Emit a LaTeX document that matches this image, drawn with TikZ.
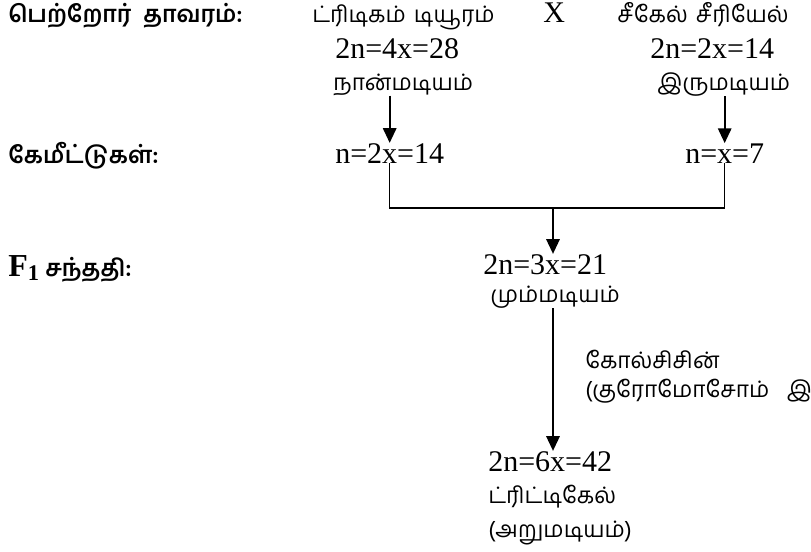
\documentclass[tikz,border=0pt]{standalone}
\usepackage{fontspec}
\usetikzlibrary{arrows.meta,positioning,calc}
\setmainfont{Liberation Serif}
\newfontfamily\tamilfont[Script=Tamil]{Hind Madurai}
\definecolor{ink}{HTML}{000000}
\tikzset{
  rowlabel/.style={anchor=base west, inner sep=0pt, text=ink,
                   font=\tamilfont\bfseries\fontsize{17.5}{20}\selectfont},
  formula/.style={anchor=base west, inner sep=0pt, text=ink,
                  font=\fontsize{22.5}{26}\selectfont},
  tamtext/.style={anchor=base west, inner sep=0pt, text=ink,
                  font=\tamilfont\fontsize{17}{20}\selectfont},
  arrow/.style={-{Triangle[length=11pt,width=10pt]}, line width=1.4pt, draw=ink},
  joint/.style={line width=1.1pt, draw=ink}
}

\begin{document}
\begin{tikzpicture}[x=0.75pt,y=-0.75pt]
        \useasboundingbox (0,0) rectangle (811,551);

        % row labels
        \node[rowlabel] (lparent) at (8,22) {பெற்றோர்\hspace{9pt}தாவரம்:};
        \node[rowlabel] (lgamete) at (8,163) {கேமீட்டுகள்:};
        \node[rowlabel] (lfone) at (8,276)
          {{\fontspec{Liberation Serif}\bfseries\fontsize{24}{26}\selectfont F\textsubscript{1}} சந்ததி:};

        % parents
        \node[tamtext] (durum) at (312,22) {ட்ரிடிகம்\hspace{6pt}டியூரம்};
        \node[formula] (cross) at (543,22) {X};
        \node[tamtext] (cereale) at (617,22) {சீகேல்\hspace{6pt}சீரியேல்};
        \node[formula] (pa) at (335,58) {2n=4x=28};
        \node[formula] (pb) at (650,58) {2n=2x=14};
        \node[tamtext] (tetra) at (333,90) {நான்மடியம்};
        \node[tamtext] (dip) at (657,90) {இருமடியம்};

        % gametes
        \node[formula] (gam1) at (335,163) {n=2x=14};
        \node[formula] (gam2) at (685,163) {n=x=7};
        \draw[arrow] (gam1 |- tetra.south) -- (gam1.north);
        \draw[arrow] (gam2 |- dip.south) -- (gam2.north);

        % F1 hybrid
        \coordinate (join) at (553,208);
        \node[formula] (hyb) at (483,274) {2n=3x=21};
        \node[tamtext] (trip) at (490,302) {மும்மடியம்};
        \draw[joint] (gam1.south) |- (join) -| (gam2.south);
        \draw[arrow] (join) -- (join |- hyb.north);

        % doubling
        \node[tamtext] (colch) at (585,368) {கோல்சிசின்};
        \node[tamtext] (chrom) at (585,397) {(குரோமோசோம்\hspace{13pt}இ};
        \node[formula] (hexa) at (488,471) {2n=6x=42};
        \node[tamtext] (trit) at (488,503) {ட்ரிட்டிகேல்};
        \node[tamtext] (hexnm) at (488,537) {(அறுமடியம்)};
        \draw[arrow] (join |- trip.south) -- (join |- hexa.north);
      \end{tikzpicture}
\end{document}
